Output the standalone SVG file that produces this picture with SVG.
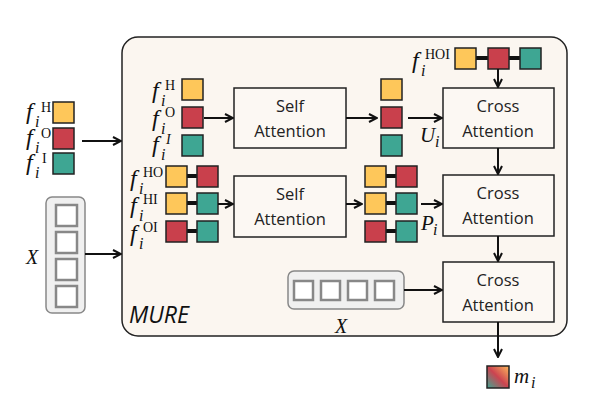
<svg xmlns="http://www.w3.org/2000/svg" width="602" height="401" viewBox="0 0 602 401">
<defs>
<style>
.y{fill:#FEC75A;stroke:#222;stroke-width:1.5}
.r{fill:#C9404C;stroke:#222;stroke-width:1.5}
.t{fill:#3EA693;stroke:#222;stroke-width:1.5}
.box{fill:#FCF8F3;stroke:#222;stroke-width:1.5}
.bar{stroke:#111;stroke-width:4}
.ln{stroke:#111;stroke-width:2;fill:none}
.lbl{font-family:"Open Sans","Noto Sans",sans-serif;font-size:16.5px;fill:#222;text-anchor:middle}
.m{font-family:"Liberation Serif","DejaVu Serif",serif;font-style:italic;fill:#111}
.f{font-family:"Liberation Serif","DejaVu Serif",serif;font-style:italic;fill:#111;font-size:24px}
.i{font-family:"Liberation Serif","DejaVu Serif",serif;font-style:italic;fill:#111;font-size:16px}
.sup{font-family:"Liberation Serif","DejaVu Serif",serif;fill:#111;font-size:14px}
.xc{fill:#F0F0F0;stroke:#888;stroke-width:1.5}
.xs{fill:#fff;stroke:#888;stroke-width:2.5}
</style>
<marker id="ah" viewBox="0 0 10 10" refX="9" refY="5" markerWidth="10" markerHeight="10" markerUnits="userSpaceOnUse" orient="auto">
<path d="M1,1 L9,5 L1,9" fill="none" stroke="#111" stroke-width="2"/>
</marker>
<linearGradient id="grad" x1="1" y1="0" x2="0" y2="1">
<stop offset="0" stop-color="#FDB95C"/>
<stop offset="0.5" stop-color="#CC4450"/>
<stop offset="1" stop-color="#3EA693"/>
</linearGradient>
</defs>

<g id="mure">
<rect x="122" y="37" width="445" height="299" rx="16" fill="#FBF6F0" stroke="#222" stroke-width="1.5"/>
<text x="129" y="323" font-family="'Open Sans','Noto Sans',sans-serif" font-style="italic" font-size="23" fill="#111">MURE</text>
</g>

<g id="input-f">
<rect class="y" x="53" y="102" width="21" height="21"/>
<rect class="r" x="53" y="128" width="21" height="21"/>
<rect class="t" x="53" y="153" width="21" height="21"/>
<text class="f" x="26" y="119">f</text><text class="i" x="35" y="127">i</text><text class="sup" x="41" y="112">H</text>
<text class="f" x="26" y="145">f</text><text class="i" x="35" y="153">i</text><text class="sup" x="41" y="138">O</text>
<text class="f" x="26" y="170">f</text><text class="i" x="35" y="178">i</text><text class="sup" x="42" y="163">I</text>
</g>

<g id="input-x">
<rect class="xc" x="46" y="197" width="39" height="116" rx="6"/>
<rect class="xs" x="56" y="205" width="21" height="21"/>
<rect class="xs" x="56" y="232" width="21" height="21"/>
<rect class="xs" x="56" y="259" width="21" height="21"/>
<rect class="xs" x="56" y="286" width="21" height="21"/>
<text class="m" x="26" y="264" font-size="20">X</text>
</g>

<g id="single-feats">
<rect class="y" x="182" y="79" width="21" height="21"/>
<rect class="r" x="182" y="107" width="21" height="21"/>
<rect class="t" x="182" y="135" width="21" height="21"/>
<text class="f" x="152" y="98">f</text><text class="i" x="161" y="106">i</text><text class="sup" x="165" y="90">H</text>
<text class="f" x="152" y="126">f</text><text class="i" x="161" y="134">i</text><text class="sup" x="165" y="117">O</text>
<text class="f" x="152" y="152">f</text><text class="i" x="161" y="160">i</text><text class="m" x="166" y="144" font-size="14">I</text>
</g>

<g id="pair-feats">
<line class="bar" x1="187" y1="176" x2="197" y2="176"/>
<line class="bar" x1="187" y1="203" x2="197" y2="203"/>
<line class="bar" x1="187" y1="231" x2="197" y2="231"/>
<rect class="y" x="166" y="166" width="21" height="21"/>
<rect class="r" x="197" y="166" width="21" height="21"/>
<rect class="y" x="166" y="193" width="21" height="21"/>
<rect class="t" x="197" y="193" width="21" height="21"/>
<rect class="r" x="166" y="221" width="21" height="21"/>
<rect class="t" x="197" y="221" width="21" height="21"/>
<text class="f" x="130" y="186">f</text><text class="i" x="139" y="194">i</text><text class="sup" x="143" y="177">HO</text>
<text class="f" x="130" y="213">f</text><text class="i" x="139" y="221">i</text><text class="sup" x="143" y="204">HI</text>
<text class="f" x="130" y="241">f</text><text class="i" x="139" y="249">i</text><text class="sup" x="143" y="232">OI</text>
</g>

<g id="self-att-1">
<rect class="box" x="234" y="88" width="112" height="60"/>
<text class="lbl" x="290" y="112">Self</text>
<text class="lbl" x="290" y="137">Attention</text>
</g>

<g id="self-att-2">
<rect class="box" x="234" y="176" width="112" height="61"/>
<text class="lbl" x="290" y="200">Self</text>
<text class="lbl" x="290" y="225">Attention</text>
</g>

<g id="u-feats">
<rect class="y" x="381" y="79" width="21" height="21"/>
<rect class="r" x="381" y="107" width="21" height="21"/>
<rect class="t" x="381" y="135" width="21" height="21"/>
<text class="m" x="420" y="142" font-size="21">U</text><text class="i" x="435" y="147">i</text>
</g>

<g id="p-feats">
<line class="bar" x1="386" y1="176" x2="396" y2="176"/>
<line class="bar" x1="386" y1="203" x2="396" y2="203"/>
<line class="bar" x1="386" y1="231" x2="396" y2="231"/>
<rect class="y" x="365" y="166" width="21" height="21"/>
<rect class="r" x="396" y="166" width="21" height="21"/>
<rect class="y" x="365" y="193" width="21" height="21"/>
<rect class="t" x="396" y="193" width="21" height="21"/>
<rect class="r" x="365" y="221" width="21" height="21"/>
<rect class="t" x="396" y="221" width="21" height="21"/>
<text class="m" x="421" y="230" font-size="21">P</text><text class="i" x="433" y="235">i</text>
</g>

<g id="hoi-feat">
<line class="bar" x1="476" y1="58" x2="520" y2="58"/>
<rect class="y" x="455" y="48" width="21" height="21"/>
<rect class="r" x="488" y="48" width="21" height="21"/>
<rect class="t" x="520" y="48" width="21" height="21"/>
<text class="f" x="412" y="68">f</text><text class="i" x="421" y="76">i</text><text class="sup" x="425" y="59">HOI</text>
</g>

<g id="cross-att-1">
<rect class="box" x="443" y="88" width="111" height="60"/>
<text class="lbl" x="498" y="112">Cross</text>
<text class="lbl" x="498" y="137">Attention</text>
</g>

<g id="cross-att-2">
<rect class="box" x="443" y="175" width="111" height="61"/>
<text class="lbl" x="498" y="199">Cross</text>
<text class="lbl" x="498" y="224">Attention</text>
</g>

<g id="cross-att-3">
<rect class="box" x="443" y="262" width="111" height="60"/>
<text class="lbl" x="498" y="286">Cross</text>
<text class="lbl" x="498" y="311">Attention</text>
</g>

<g id="x-inner">
<rect class="xc" x="288" y="271" width="116" height="38" rx="6"/>
<rect class="xs" x="294" y="281" width="19" height="19"/>
<rect class="xs" x="321" y="281" width="19" height="19"/>
<rect class="xs" x="348" y="281" width="19" height="19"/>
<rect class="xs" x="375" y="281" width="19" height="19"/>
<text class="m" x="335" y="333" font-size="20">X</text>
</g>

<g id="output">
<rect x="487" y="366" width="22" height="22" fill="url(#grad)" stroke="#222" stroke-width="1.5"/>
<text class="m" x="514" y="383" font-size="21">m</text><text class="i" x="531" y="388">i</text>
</g>

<g id="connectors">
<line class="ln" x1="82" y1="141" x2="121" y2="141" marker-end="url(#ah)"/>
<line class="ln" x1="85" y1="254" x2="121" y2="254" marker-end="url(#ah)"/>
<line class="ln" x1="204" y1="118" x2="233" y2="118" marker-end="url(#ah)"/>
<line class="ln" x1="346" y1="118" x2="377" y2="118" marker-end="url(#ah)"/>
<line class="ln" x1="408" y1="118" x2="442" y2="118" marker-end="url(#ah)"/>
<line class="ln" x1="218" y1="204" x2="233" y2="204" marker-end="url(#ah)"/>
<line class="ln" x1="346" y1="204" x2="362" y2="204" marker-end="url(#ah)"/>
<line class="ln" x1="421" y1="204" x2="442" y2="204" marker-end="url(#ah)"/>
<line class="ln" x1="498" y1="69" x2="498" y2="87" marker-end="url(#ah)"/>
<line class="ln" x1="498" y1="148" x2="498" y2="174" marker-end="url(#ah)"/>
<line class="ln" x1="498" y1="236" x2="498" y2="261" marker-end="url(#ah)"/>
<line class="ln" x1="404" y1="290" x2="442" y2="290" marker-end="url(#ah)"/>
<line class="ln" x1="498" y1="322" x2="498" y2="357" marker-end="url(#ah)"/>
</g>
</svg>
